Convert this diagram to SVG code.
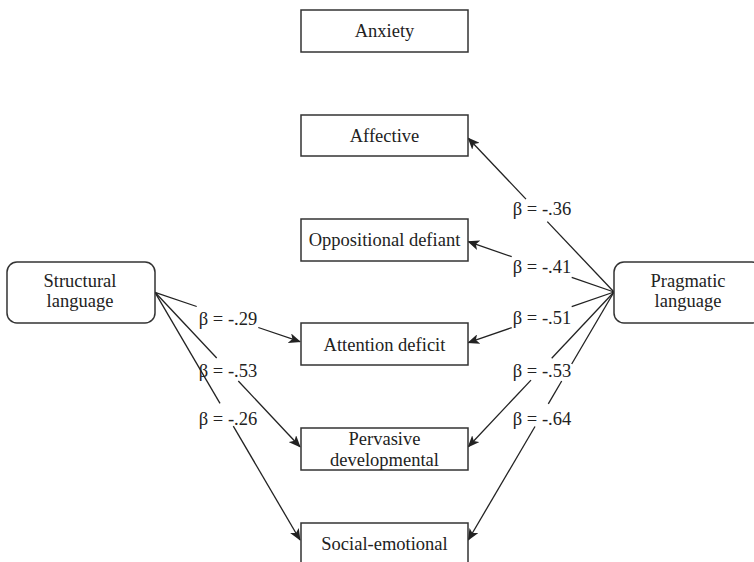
<svg xmlns="http://www.w3.org/2000/svg" width="754" height="562" viewBox="0 0 754 562">
<defs>
<style>
.box{fill:#fff;stroke:#333;stroke-width:1.5}
.t{font-size:18.5px;fill:#222;text-anchor:middle}
.c{stroke:#222;stroke-width:1.3;fill:none}
</style>
<marker id="ah" viewBox="0 0 12 10" refX="11" refY="5" markerWidth="12" markerHeight="10" markerUnits="userSpaceOnUse" orient="auto">
<path d="M0,0 L12,5 L0,10 L3,5 z" fill="#222"/>
</marker>
</defs>
<rect width="754" height="562" fill="#fff"/>
<g id="connectors">
<line class="c" x1="155" y1="292.3" x2="196.7" y2="306.5"/>
<line class="c" x1="258.3" y1="327.5" x2="300" y2="341.7" marker-end="url(#ah)"/>
<line class="c" x1="155" y1="292.3" x2="216.7" y2="358"/>
<line class="c" x1="238.3" y1="381" x2="300" y2="446.7" marker-end="url(#ah)"/>
<line class="c" x1="155" y1="292.3" x2="220" y2="403.3"/>
<line class="c" x1="233.3" y1="426.1" x2="300" y2="540" marker-end="url(#ah)"/>
<line class="c" x1="614" y1="292" x2="547.3" y2="221.6"/>
<line class="c" x1="526" y1="199.1" x2="468.3" y2="138.3" marker-end="url(#ah)"/>
<line class="c" x1="614" y1="292" x2="571.7" y2="277.4"/>
<line class="c" x1="511.7" y1="256.7" x2="468.3" y2="241.7" marker-end="url(#ah)"/>
<line class="c" x1="614" y1="292" x2="571.7" y2="306.7"/>
<line class="c" x1="511.7" y1="327.6" x2="468.3" y2="342.7" marker-end="url(#ah)"/>
<line class="c" x1="614" y1="292" x2="551.7" y2="358.2"/>
<line class="c" x1="531" y1="380.1" x2="468.3" y2="446.7" marker-end="url(#ah)"/>
<line class="c" x1="614" y1="292" x2="571.7" y2="364"/>
<line class="c" x1="561.7" y1="381" x2="548.3" y2="403.8"/>
<line class="c" x1="535" y1="426.5" x2="468.3" y2="540" marker-end="url(#ah)"/>
</g>
<g font-family="'Liberation Serif', 'Times New Roman', 'DejaVu Serif', serif">
<g id="labels">
<text class="t" x="228" y="325">β = -.29</text>
<text class="t" x="228" y="377">β = -.53</text>
<text class="t" x="228" y="425">β = -.26</text>
<text class="t" x="542" y="215">β = -.36</text>
<text class="t" x="542" y="273">β = -.41</text>
<text class="t" x="542" y="324">β = -.51</text>
<text class="t" x="542" y="377">β = -.53</text>
<text class="t" x="542" y="425">β = -.64</text>
</g>
<g id="anxiety"><rect class="box" x="301" y="10" width="167" height="42"/><text class="t" x="384.5" y="37">Anxiety</text></g>
<g id="affective"><rect class="box" x="301" y="115" width="167" height="41"/><text class="t" x="384.5" y="142">Affective</text></g>
<g id="oppositional"><rect class="box" x="301" y="219" width="167" height="42"/><text class="t" x="384.5" y="246">Oppositional defiant</text></g>
<g id="attention"><rect class="box" x="301" y="323" width="167" height="42"/><text class="t" x="384.5" y="351">Attention deficit</text></g>
<g id="pervasive"><rect class="box" x="301" y="428" width="167" height="42"/><text class="t" x="384.5" y="445">Pervasive</text><text class="t" x="384.5" y="466">developmental</text></g>
<g id="social"><rect class="box" x="301" y="523" width="167" height="42"/><text class="t" x="384.5" y="550">Social-emotional</text></g>
<g id="structural"><rect class="box" x="7" y="262" width="148" height="61" rx="10"/><text class="t" x="80" y="287">Structural</text><text class="t" x="80" y="307">language</text></g>
<g id="pragmatic"><rect class="box" x="614" y="262" width="148" height="61" rx="10"/><text class="t" x="688" y="287">Pragmatic</text><text class="t" x="688" y="307">language</text></g>
</g>
</svg>
